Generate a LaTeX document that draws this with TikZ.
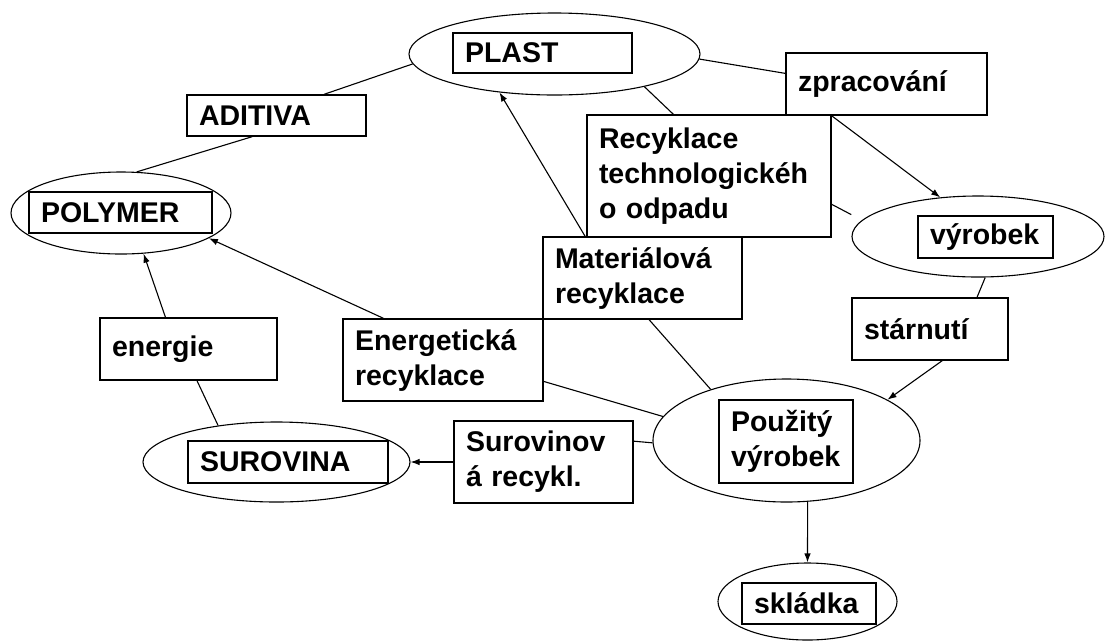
\documentclass[tikz,border=0pt]{standalone}
\usepackage{fontspec}
\setmainfont{Liberation Sans}
\usetikzlibrary{shapes.geometric, arrows.meta}

\begin{document}
\begin{tikzpicture}[
        x = 1pt, y = -1pt,
        every node/.style = {font = \bfseries\fontsize{28.5}{35}\selectfont},
        oval/.style 2 args = {draw, ellipse, line width = 1.1pt, minimum width = #1, minimum height = #2, inner sep = 0pt},
        rbox/.style 2 args = {draw, fill = white, line width = 1.4pt, text width = #1, minimum height = #2,
                              inner xsep = 12pt, inner ysep = 0pt, align = left},
        linky/.style = {line width = 1.1pt},
        arrowy/.style = {linky, -{Latex[length = 9pt, width = 6.5pt]}}
      ]
      \useasboundingbox (0, 0) rectangle (1108, 641);
      % ovals
      \node[oval = {291pt}{82pt}]  (plast)    at (554.5, 54)    {};
      \node[oval = {220pt}{82pt}]  (polymer)  at (121, 213)     {};
      \node[oval = {267pt}{80pt}]  (surovina) at (276.5, 462)   {};
      \node[oval = {252pt}{81pt}]  (vyrobek)  at (978, 236.5)   {};
      \node[oval = {267pt}{123pt}] (pouzity)  at (786.5, 440.5) {};
      \node[oval = {179pt}{77pt}]  (skladka)  at (807.5, 601.5) {};
      % labels inside the ovals
      \node[rbox = {155pt}{40pt}] (plastbox)    at (542.5, 53)    {PLAST};
      \node[rbox = {159pt}{41pt}] (polymerbox)  at (120.5, 212.5) {POLYMER};
      \node[rbox = {176pt}{42pt}] (surovinabox) at (288, 462)     {SUROVINA};
      \node[rbox = {111pt}{42pt}] (vyrobekbox)  at (985.5, 237)   {výrobek};
      \node[rbox = {110pt}{83pt}] (pouzitybox)  at (786, 441.5)   {Použitý\\výrobek};
      \node[rbox = {110pt}{41pt}] (skladkabox)  at (809, 603.5)   {skládka};
      % boxes
      \node[rbox = {155pt}{41pt}]  (aditiva)     at (276.5, 115.5) {ADITIVA};
      \node[rbox = {153pt}{62pt}]  (energie)     at (188.5, 349)   {energie};
      \node[rbox = {176pt}{82pt}]  (energeticka) at (443, 360)     {Energetická\\recyklace};
      \node[rbox = {155pt}{82pt}]  (surovinova)  at (543.5, 462)   {Surovinov\\á recykl.};
      \node[rbox = {220pt}{122pt}] (recyklace)   at (709, 176)     {Recyklace\\technologickéh\\o odpadu};
      \node[rbox = {175pt}{82pt}]  (materialova) at (642.5, 278)   {Materiálová\\recyklace};
      \node[rbox = {177pt}{62pt}]  (zpracovani)  at (886.5, 84)    {zpracování};
      \node[rbox = {132pt}{62pt}]  (starnuti)    at (930, 329)     {stárnutí};
      % making the plastic
      \draw[linky]  (plast.184)    -- (aditiva.24);
      \draw[linky]  (aditiva.221)  -- (polymer.69);
      \draw[arrowy] (energie.126)  -- (polymer.299);
      \draw[linky]  (energie.285)  -- (surovina.148);
      % life of the product
      \draw[linky]  (plast.358)      -- (zpracovani.174);
      \draw[arrowy] (zpracovani.210) -- (vyrobek.134);
      \draw[linky]  (vyrobek.280)    -- (starnuti.34);
      \draw[arrowy] (starnuti.291)   -- (pouzity.22);
      \draw[arrowy] (pouzity.289)    -- (skladka.north);
      % the ways back
      \draw[linky]  (plast.340)       -- (recyklace.120);
      \draw[linky, shorten >= 12pt] (recyklace.347) -- (vyrobek.172);
      \draw[arrowy] (materialova.144) -- (plast.215);
      \draw[linky]  (materialova.279) -- (pouzity.146);
      \draw[arrowy] (energeticka.145) -- (polymer.344);
      \draw[linky]  (energeticka.348) -- (pouzity.169);
      \draw[linky]  (surovinova.13)   -- (pouzity.181);
      \draw[arrowy] (surovinova.west) -- (surovina.east);
    \end{tikzpicture}
\end{document}
